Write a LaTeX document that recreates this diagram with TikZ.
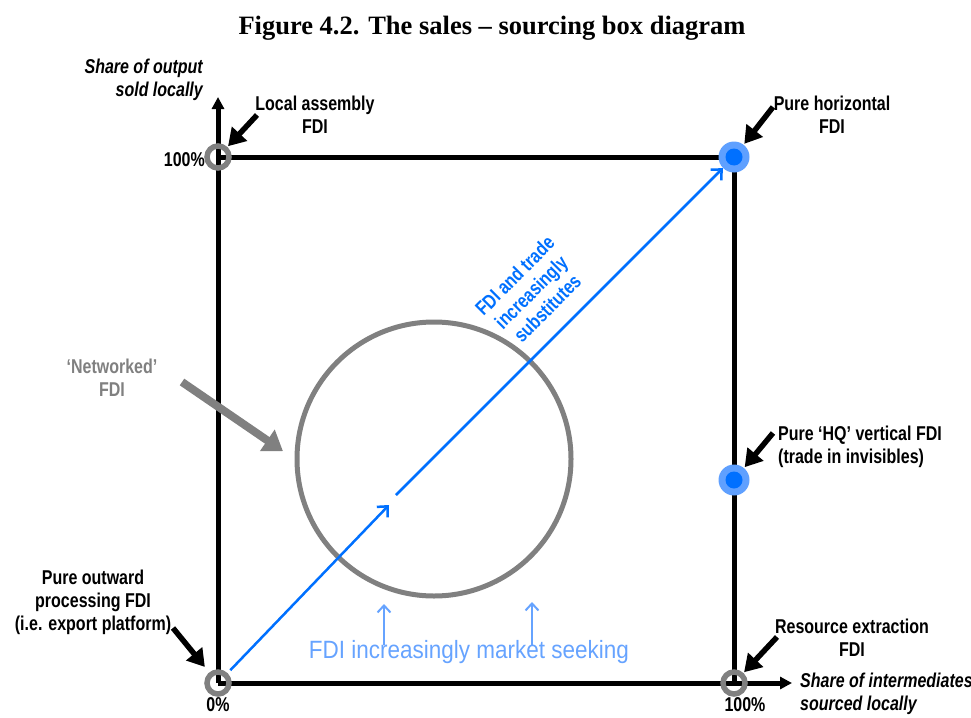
\documentclass[tikz,border=0pt]{standalone}
\usepackage{fontspec}
\setmainfont{Liberation Serif}
\newfontfamily\lblfont[FakeStretch=0.8]{Liberation Sans}
\newfontfamily\seekfont[FakeStretch=0.9]{Liberation Sans}
\usetikzlibrary{arrows.meta,positioning,calc}
\definecolor{fdiblue}{RGB}{0,112,255}
\definecolor{seekblue}{RGB}{102,163,255}
\definecolor{hubblue}{RGB}{95,160,255}
\definecolor{ringgray}{RGB}{128,128,128}

\begin{document}
\begin{tikzpicture}[x=1pt, y=-1pt,
    lbl/.style={font=\lblfont\bfseries\fontsize{20}{23}\selectfont, align=center, inner sep=0pt},
    axlbl/.style={lbl, font=\lblfont\bfseries\itshape\fontsize{20}{23}\selectfont},
    ring/.style={circle, draw=ringgray, line width=5.5pt, minimum size=22pt, inner sep=0pt},
    hub/.style={circle, fill=hubblue, minimum size=31pt, inner sep=0pt,
        path picture={\fill[fdiblue] (path picture bounding box.center) circle (8.5pt);}},
    axis/.style={line width=5pt, -{Triangle[length=12pt, width=12pt]}},
    box/.style={line width=5pt},
    ptr/.style={line width=5.5pt, shorten >=1pt, -{Triangle[length=17pt, width=20pt]}},
    gptr/.style={ptr, draw=ringgray, line width=8pt, -{Triangle[length=19pt, width=25pt]}},
    fdi/.style={draw=fdiblue, line width=2.5pt, -{Straight Barb[length=8pt, width=15pt]}},
    seek/.style={draw=seekblue, line width=2pt, -{Straight Barb[length=7pt, width=13pt]}}
]
\useasboundingbox (0,0) rectangle (971,717);

\node[font=\bfseries\fontsize{26.5}{30}\selectfont] (title) at (492,28) {Figure 4.2. The sales -- sourcing box diagram};

\coordinate (O) at (218,683);
\coordinate (TL) at (218,157);
\coordinate (TR) at (734,157);
\coordinate (BR) at (734,683);
\coordinate (HQ) at (734,480);

\draw[box] (TL) -| (BR);
\draw[axis] (O) -- (218,97);
\draw[axis] (O) -- (792,683);

\node[circle, draw=ringgray, line width=5pt, minimum size=274pt, inner sep=0pt] (netw) at (434,459) {};

\node[ring] (rO) at (O) {};
\node[ring] (rTL) at (TL) {};
\node[ring] (rBR) at (BR) {};
\node[hub] (hTR) at (TR) {};
\node[hub] (hHQ) at (HQ) {};

\node[axlbl, align=right, anchor=east] (ylab) at (203,80) {Share of output\\sold locally};
\node[axlbl, align=left, anchor=west] (xlab) at (800,694) {Share of intermediates\\sourced locally};
\node[lbl, anchor=east] (y100) at (205,160) {100\%};
\node[lbl] (x0) at (218,705) {0\%};
\node[lbl] (x100) at (745,705) {100\%};

\node[lbl] (asm) at (315,115) {Local assembly\\FDI};
\node[lbl] (horiz) at (832,115) {Pure horizontal\\FDI};
\node[lbl, align=left, anchor=west] (hq) at (778,447) {Pure ‘HQ’ vertical FDI\\(trade in invisibles)};
\node[lbl] (outw) at (93,602) {Pure outward\\processing FDI\\(i.e. export platform)};
\node[lbl] (res) at (852,638) {Resource extraction\\FDI};
\node[lbl, text=ringgray] (netlbl) at (112,378) {‘Networked’\\FDI};
\node[lbl, text=fdiblue, rotate=45] (subst) at (531,292) {FDI and trade\\increasingly\\substitutes};
\node[font=\seekfont\fontsize{25}{28}\selectfont, text=seekblue, inner sep=0pt] (mkt) at (469,652) {FDI increasingly market seeking};

\coordinate (asmT) at (257,115);
\coordinate (horizT) at (773,107);
\coordinate (hqT) at (773,433);
\coordinate (outwT) at (173,628);
\coordinate (resT) at (777,637);
\coordinate (netT) at (182,382);
\coordinate (gapA) at (389,505);
\coordinate (gapB) at (396,495);

\draw[ptr] (asmT) -- (rTL);
\draw[ptr] (horizT) -- (hTR);
\draw[ptr] (hqT) -- (hHQ);
\draw[ptr, shorten >=7pt] (outwT) -- (rO);
\draw[ptr] (resT) -- (rBR);
\draw[gptr, shorten >=14pt] (netT) -- (netw.west);

\draw[fdi, shorten <=4pt] (rO) -- (gapA);
\draw[fdi] (gapB) -- (hTR);

\draw[seek] (384,645) -- (384,604);
\draw[seek] (532,645) -- (532,602);
\end{tikzpicture}
\end{document}
